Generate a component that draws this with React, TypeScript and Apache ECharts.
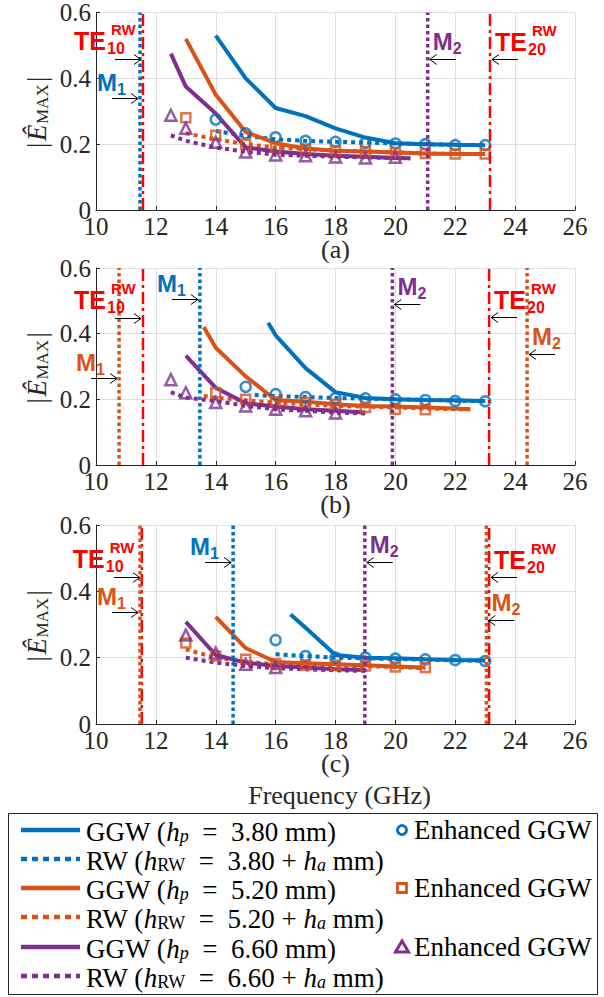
import React, { useEffect, useRef } from "react";
import * as echarts from "echarts";

const BLUE = "#0072BD";
const ORANGE = "#D95319";
const PURPLE = "#7E2F8E";
const RED = "#FF0000";
const INK = "#262626";

const X_MIN = 10, X_MAX = 26, X_STEP = 2;
const Y_MIN = 0, Y_MAX = 0.6, Y_STEP = 0.2;
const PANEL_CAPTIONS = ["(a)", "(b)", "(c)"];
const X_TITLE = "Frequency (GHz)";

// ---------- Panel (a) ----------
const aGgw38F = [14, 15, 16, 17, 18, 19, 20, 21, 22, 23];
const aGgw38V = [0.53, 0.4, 0.31, 0.285, 0.248, 0.22, 0.203, 0.2, 0.198, 0.197];
const aRw38F = [14, 15, 16, 17, 18, 19, 20, 21, 22, 23];
const aRw38V = [0.24, 0.225, 0.215, 0.21, 0.207, 0.205, 0.202, 0.2, 0.198, 0.197];
const aEnh38F = [14, 15, 16, 17, 18, 19, 20, 21, 22, 23];
const aEnh38V = [0.275, 0.233, 0.221, 0.21, 0.207, 0.204, 0.202, 0.2, 0.197, 0.197];
const aGgw52F = [13, 14, 15, 16, 17, 18, 19, 20, 21, 22, 23];
const aGgw52V = [0.52, 0.35, 0.237, 0.203, 0.187, 0.18, 0.178, 0.175, 0.172, 0.17, 0.17];
const aRw52F = [13, 14, 15, 16, 17, 18, 19, 20, 21, 22, 23];
const aRw52V = [0.233, 0.215, 0.2, 0.19, 0.185, 0.18, 0.178, 0.175, 0.172, 0.17, 0.17];
const aEnh52F = [13, 14, 15, 16, 17, 18, 19, 20, 21, 22, 23];
const aEnh52V = [0.28, 0.227, 0.2, 0.19, 0.185, 0.18, 0.178, 0.175, 0.172, 0.17, 0.17];
const aGgw66F = [12.5, 13, 14, 15, 16, 17, 18, 19, 20, 20.5];
const aGgw66V = [0.475, 0.375, 0.293, 0.19, 0.178, 0.17, 0.165, 0.162, 0.158, 0.157];
const aRw66F = [12.5, 13, 14, 15, 16, 17, 18, 19, 20, 20.5];
const aRw66V = [0.227, 0.21, 0.19, 0.177, 0.168, 0.165, 0.162, 0.16, 0.158, 0.157];
const aEnh66F = [12.5, 13, 14, 15, 16, 17, 18, 19, 20];
const aEnh66V = [0.288, 0.248, 0.206, 0.176, 0.167, 0.165, 0.161, 0.158, 0.16];
const aCutNames = ["TE10", "M1", "M2", "TE20"];
const aCutFreq = [11.57, 11.47, 21.08, 23.16];

// ---------- Panel (b) ----------
const bGgw38F = [15.75, 16, 17, 18, 19, 20, 21, 22, 23];
const bGgw38V = [0.433, 0.395, 0.295, 0.222, 0.204, 0.2, 0.198, 0.197, 0.195];
const bRw38F = [15.3, 16, 17, 18, 19, 20, 21, 22, 23];
const bRw38V = [0.213, 0.21, 0.207, 0.204, 0.202, 0.2, 0.198, 0.196, 0.194];
const bEnh38F = [15, 16, 17, 18, 19, 20, 21, 22, 23];
const bEnh38V = [0.238, 0.216, 0.207, 0.204, 0.203, 0.2, 0.198, 0.195, 0.194];
const bGgw52F = [13.6, 14, 15, 16, 17, 18, 19, 20, 21, 22, 22.5];
const bGgw52V = [0.42, 0.357, 0.27, 0.198, 0.193, 0.185, 0.18, 0.178, 0.175, 0.172, 0.17];
const bRw52F = [13.6, 14, 15, 16, 17, 18, 19, 20, 21, 22, 22.5];
const bRw52V = [0.21, 0.205, 0.197, 0.19, 0.185, 0.18, 0.178, 0.175, 0.172, 0.17, 0.17];
const bEnh52F = [14, 15, 16, 17, 18, 19, 20, 21];
const bEnh52V = [0.22, 0.2, 0.193, 0.19, 0.185, 0.175, 0.17, 0.168];
const bGgw66F = [13, 14, 15, 16, 17, 18, 19];
const bGgw66V = [0.333, 0.235, 0.188, 0.178, 0.17, 0.165, 0.16];
const bRw66F = [12.5, 13, 14, 15, 16, 17, 18, 19];
const bRw66V = [0.222, 0.205, 0.195, 0.18, 0.17, 0.165, 0.16, 0.157];
const bEnh66F = [12.5, 13, 14, 15, 16, 17, 18];
const bEnh66V = [0.26, 0.22, 0.19, 0.18, 0.17, 0.165, 0.158];
const bCutNames = ["M1", "TE10", "M1", "M2", "TE20", "M2"];
const bCutFreq = [10.77, 11.57, 13.47, 19.9, 23.13, 24.4];

// ---------- Panel (c) ----------
const cGgw38F = [16.5, 17, 18, 19, 20, 21, 22, 23];
const cGgw38V = [0.33, 0.29, 0.208, 0.2, 0.198, 0.195, 0.193, 0.192];
const cRw38F = [16, 17, 18, 19, 20, 21, 22, 23];
const cRw38V = [0.21, 0.205, 0.2, 0.198, 0.196, 0.194, 0.192, 0.19];
const cEnh38F = [16, 17, 18, 19, 20, 21, 22, 23];
const cEnh38V = [0.253, 0.205, 0.2, 0.2, 0.197, 0.195, 0.193, 0.19];
const cGgw52F = [14, 15, 16, 17, 18, 19, 20, 21];
const cGgw52V = [0.323, 0.229, 0.187, 0.183, 0.18, 0.177, 0.173, 0.17];
const cRw52F = [13, 14, 15, 16, 17, 18, 19, 20, 21];
const cRw52V = [0.225, 0.2, 0.188, 0.18, 0.178, 0.176, 0.174, 0.172, 0.168];
const cEnh52F = [13, 14, 15, 16, 17, 18, 19, 20, 21];
const cEnh52V = [0.244, 0.205, 0.195, 0.182, 0.178, 0.177, 0.175, 0.172, 0.17];
const cGgw66F = [13, 14, 15, 16, 17, 18, 19];
const cGgw66V = [0.308, 0.208, 0.185, 0.175, 0.17, 0.165, 0.163];
const cRw66F = [13, 14, 15, 16, 17, 18, 19];
const cRw66V = [0.2, 0.185, 0.175, 0.168, 0.165, 0.162, 0.16];
const cEnh66F = [13, 14, 15, 16];
const cEnh66V = [0.268, 0.214, 0.18, 0.17];
const cCutNames = ["TE10", "M1", "M1", "M2", "TE20", "M2"];
const cCutFreq = [11.53, 11.47, 14.58, 18.98, 23.13, 23.04];

// Legend texts
const LEGEND_HEIGHTS = ["3.80", "5.20", "6.60"];
const LEGEND_ENH = "Enhanced GGW";

// ---------- styles (not data) ----------
type CutStyle = { c: string; dash: "dd" | "dot"; arrowV: number; dir: "r" | "l" };
const aCutStyle: CutStyle[] = [
  { c: RED, dash: "dd", arrowV: 0.46, dir: "r" },
  { c: BLUE, dash: "dot", arrowV: 0.34, dir: "r" },
  { c: PURPLE, dash: "dot", arrowV: 0.458, dir: "l" },
  { c: RED, dash: "dd", arrowV: 0.458, dir: "l" },
];
const bCutStyle: CutStyle[] = [
  { c: ORANGE, dash: "dot", arrowV: 0.265, dir: "r" },
  { c: RED, dash: "dd", arrowV: 0.448, dir: "r" },
  { c: BLUE, dash: "dot", arrowV: 0.506, dir: "r" },
  { c: PURPLE, dash: "dot", arrowV: 0.49, dir: "l" },
  { c: RED, dash: "dd", arrowV: 0.45, dir: "l" },
  { c: ORANGE, dash: "dot", arrowV: 0.338, dir: "l" },
];
const cCutStyle: CutStyle[] = [
  { c: RED, dash: "dd", arrowV: 0.443, dir: "r" },
  { c: ORANGE, dash: "dot", arrowV: 0.338, dir: "r" },
  { c: BLUE, dash: "dot", arrowV: 0.488, dir: "r" },
  { c: PURPLE, dash: "dot", arrowV: 0.488, dir: "l" },
  { c: RED, dash: "dd", arrowV: 0.443, dir: "l" },
  { c: ORANGE, dash: "dot", arrowV: 0.313, dir: "l" },
];

const zip = (f: number[], v: number[]) => f.map((x, i) => [x, v[i]]);

const PANELS = [
  {
    ggw: [zip(aGgw38F, aGgw38V), zip(aGgw52F, aGgw52V), zip(aGgw66F, aGgw66V)],
    rw: [zip(aRw38F, aRw38V), zip(aRw52F, aRw52V), zip(aRw66F, aRw66V)],
    enh: [zip(aEnh38F, aEnh38V), zip(aEnh52F, aEnh52V), zip(aEnh66F, aEnh66V)],
    cutN: aCutNames, cutF: aCutFreq, cutS: aCutStyle,
  },
  {
    ggw: [zip(bGgw38F, bGgw38V), zip(bGgw52F, bGgw52V), zip(bGgw66F, bGgw66V)],
    rw: [zip(bRw38F, bRw38V), zip(bRw52F, bRw52V), zip(bRw66F, bRw66V)],
    enh: [zip(bEnh38F, bEnh38V), zip(bEnh52F, bEnh52V), zip(bEnh66F, bEnh66V)],
    cutN: bCutNames, cutF: bCutFreq, cutS: bCutStyle,
  },
  {
    ggw: [zip(cGgw38F, cGgw38V), zip(cGgw52F, cGgw52V), zip(cGgw66F, cGgw66V)],
    rw: [zip(cRw38F, cRw38V), zip(cRw52F, cRw52V), zip(cRw66F, cRw66V)],
    enh: [zip(cEnh38F, cEnh38V), zip(cEnh52F, cEnh52V), zip(cEnh66F, cEnh66V)],
    cutN: cCutNames, cutF: cCutFreq, cutS: cCutStyle,
  },
];

const COLORS = [BLUE, ORANGE, PURPLE];
const SYMBOLS = ["circle", "rect", "triangle"];
const SYMBOL_SIZES = [10, 9, 11];
const GRIDS = [
  { left: 96, top: 12, width: 479, height: 198 },
  { left: 96, top: 268, width: 479, height: 197 },
  { left: 96, top: 525, width: 479, height: 199 },
];
const SERIF = "Liberation Serif, serif";
const SANS = "Liberation Sans, sans-serif";

function buildOption() {
  const series: any[] = [];
  PANELS.forEach((p, g) => {
    for (let k = 0; k < 3; k++) {
      series.push({
        type: "line", xAxisIndex: g, yAxisIndex: g, data: p.ggw[k],
        symbol: "none", showSymbol: false, silent: true, z: 2,
        lineStyle: { color: COLORS[k], width: 4, type: "solid" },
      });
      series.push({
        type: "line", xAxisIndex: g, yAxisIndex: g, data: p.rw[k],
        symbol: "none", showSymbol: false, silent: true, z: 2,
        lineStyle: { color: COLORS[k], width: 4, type: [4, 4], cap: "butt" },
      });
      series.push({
        type: "scatter", xAxisIndex: g, yAxisIndex: g, data: p.enh[k],
        symbol: SYMBOLS[k], symbolSize: SYMBOL_SIZES[k], silent: true, z: 3,
        itemStyle: { color: "rgba(255,255,255,0)", borderColor: COLORS[k], borderWidth: 2.5 },
      });
    }
    p.cutF.forEach((f, i) => {
      const s = p.cutS[i];
      series.push({
        type: "line", xAxisIndex: g, yAxisIndex: g,
        data: [[f, Y_MIN], [f, Y_MAX]],
        symbol: "none", showSymbol: false, silent: true, z: 4,
        lineStyle: s.dash === "dd"
          ? { color: s.c, width: 2.5, type: [12, 4, 3, 4] }
          : { color: s.c, width: 3.5, type: [3.5, 3], cap: "butt" },
      });
    });
  });

  return {
    animation: false,
    backgroundColor: "#ffffff",
    grid: GRIDS,
    xAxis: GRIDS.map((_, g) => ({
      type: "value", gridIndex: g, min: X_MIN, max: X_MAX, interval: X_STEP,
      axisLine: { show: true, onZero: false, lineStyle: { color: INK, width: 1 } },
      axisTick: { show: true, inside: true, length: 4, lineStyle: { color: INK } },
      axisLabel: { color: INK, fontSize: 25, fontFamily: SERIF, margin: 4 },
      splitLine: { show: true, lineStyle: { color: "#dedede", width: 1 } },
    })),
    yAxis: GRIDS.map((_, g) => ({
      type: "value", gridIndex: g, min: Y_MIN, max: Y_MAX, interval: Y_STEP,
      axisLine: { show: true, lineStyle: { color: INK, width: 1 } },
      axisTick: { show: true, inside: true, length: 4, lineStyle: { color: INK } },
      axisLabel: { color: INK, fontSize: 25, fontFamily: SERIF, margin: 5 },
      splitLine: { show: true, lineStyle: { color: "#dedede", width: 1 } },
    })),
    series,
  };
}

function txt(x: number, y: number, text: string, font: string, fill: string, align = "left") {
  return { type: "text", x, y, silent: true, z: 100, style: { text, font, fill, align, verticalAlign: "middle" } };
}

function buildGraphics(chart: any) {
  const els: any[] = [];
  PANELS.forEach((p, g) => {
    const gr = GRIDS[g];
    const cx = gr.left + gr.width / 2;
    const cy = gr.top + gr.height / 2;
    // y-axis title |Ê_MAX|
    els.push({
      type: "group", x: 37, y: cy, rotation: Math.PI / 2, silent: true,
      children: [
        txt(-37, 0, "|", `27px ${SERIF}`, INK),
        txt(-30, 0, "Ê", `italic 27px ${SERIF}`, INK),
        txt(-13, 5, "MAX", `17px ${SERIF}`, INK),
        txt(29, 0, "|", `27px ${SERIF}`, INK),
      ],
    });
    // caption
    els.push(txt(cx, gr.top + gr.height + 39, PANEL_CAPTIONS[g], `26px ${SERIF}`, INK, "center"));
    // cutoff annotations
    p.cutF.forEach((f, i) => {
      const s = p.cutS[i];
      const name = p.cutN[i];
      const isTE = name.startsWith("TE");
      const main = isTE ? "TE" : "M";
      const sub = name.slice(isTE ? 2 : 1);
      const pt = chart.convertToPixel({ gridIndex: g }, [f, s.arrowV]);
      const lx = pt[0], y = Math.round(pt[1]) + 0.5;
      const tip = s.dir === "r" ? lx - 2 : lx + 2;
      const tail = s.dir === "r" ? tip - 26 : tip + 26;
      const hb = s.dir === "r" ? tip - 7 : tip + 7;
      els.push({ type: "line", silent: true, z: 100, shape: { x1: tail, y1: y, x2: tip, y2: y }, style: { stroke: "#000", lineWidth: 1 } });
      els.push({ type: "polyline", silent: true, z: 100, shape: { points: [[hb, y - 5], [tip, y], [hb, y + 5]] }, style: { stroke: "#000", lineWidth: 1, fill: null } });
      let L: number, C: number;
      if (s.dir === "r") {
        L = tip + (isTE ? -67 : -41);
        C = y + (isTE ? -19 : -16);
      } else {
        L = tip + 3;
        C = y - 18;
      }
      if (isTE) {
        els.push(txt(L, C, main, `bold 25px ${SANS}`, s.c));
        els.push(txt(L + 33, C + 8, sub, `bold 16px ${SANS}`, s.c));
        els.push(txt(L + 37, C - 11, "RW", `bold 15px ${SANS}`, s.c));
      } else {
        els.push(txt(L, C, main, `bold 24px ${SANS}`, s.c));
        els.push(txt(L + 20, C + 7, sub, `bold 16px ${SANS}`, s.c));
      }
    });
  });
  const last = GRIDS[2];
  els.push(txt(last.left + last.width / 2 + 4, 795, X_TITLE, `26px ${SERIF}`, INK, "center"));

  // legend box
  els.push({ type: "rect", silent: true, z: 90, shape: { x: 8.5, y: 813.5, width: 589, height: 181 }, style: { fill: "#fff", stroke: INK, lineWidth: 1 } });
  const rowY = [830, 859, 888, 917, 947, 976];
  const rich = {
    n: { fontSize: 27, fontFamily: SERIF, lineHeight: 30, verticalAlign: "bottom" },
    i: { fontSize: 27, fontFamily: SERIF, fontStyle: "italic", lineHeight: 30, verticalAlign: "bottom" },
    s: { fontSize: 18, fontFamily: SERIF, fontStyle: "italic", lineHeight: 24, verticalAlign: "bottom" },
    r: { fontSize: 18, fontFamily: SERIF, lineHeight: 24, verticalAlign: "bottom" },
  };
  LEGEND_HEIGHTS.forEach((h, k) => {
    const y1 = rowY[2 * k], y2 = rowY[2 * k + 1];
    els.push({ type: "line", silent: true, z: 100, shape: { x1: 21, y1, x2: 80, y2: y1 }, style: { stroke: COLORS[k], lineWidth: 4.5 } });
    els.push({ type: "line", silent: true, z: 100, shape: { x1: 21, y1: y2, x2: 80, y2 }, style: { stroke: COLORS[k], lineWidth: 4.5, lineDash: [6, 5] } });
    els.push({
      type: "text", x: 86, y: y1, silent: true, z: 100,
      style: { text: `{n|GGW (}{i|h}{s|p}{n|  =  ${h} mm)}`, rich, fill: "#000", verticalAlign: "middle", align: "left" },
    });
    els.push({
      type: "text", x: 86, y: y2, silent: true, z: 100,
      style: { text: `{n|RW (}{i|h}{r|RW}{n|  =  ${h} + }{i|h}{s|a}{n| mm)}`, rich, fill: "#000", verticalAlign: "middle", align: "left" },
    });
    const mx = 402;
    if (k === 0) els.push({ type: "circle", silent: true, z: 100, shape: { cx: mx, cy: y1, r: 4.5 }, style: { fill: "none", stroke: COLORS[k], lineWidth: 2.8 } });
    if (k === 1) els.push({ type: "rect", silent: true, z: 100, shape: { x: mx - 4.5, y: y1 - 4.5, width: 9, height: 9 }, style: { fill: "none", stroke: COLORS[k], lineWidth: 2.8 } });
    if (k === 2) els.push({ type: "polygon", silent: true, z: 100, shape: { points: [[mx, y1 - 6], [mx - 6.5, y1 + 5], [mx + 6.5, y1 + 5]] }, style: { fill: "none", stroke: COLORS[k], lineWidth: 3 } });
    els.push({ type: "text", x: 414, y: y1, silent: true, z: 100, style: { text: LEGEND_ENH, font: `27px ${SERIF}`, fill: "#000", verticalAlign: "middle", align: "left" } });
  });
  return els;
}

export default function App() {
  const ref = useRef<HTMLDivElement>(null);
  useEffect(() => {
    document.body.style.margin = "0";
    const chart = echarts.init(ref.current!, undefined, { renderer: "svg" });
    chart.setOption(buildOption() as any);
    chart.setOption({ graphic: buildGraphics(chart) } as any);
    return () => chart.dispose();
  }, []);
  return <div ref={ref} style={{ width: 604, height: 997 }} />;
}
